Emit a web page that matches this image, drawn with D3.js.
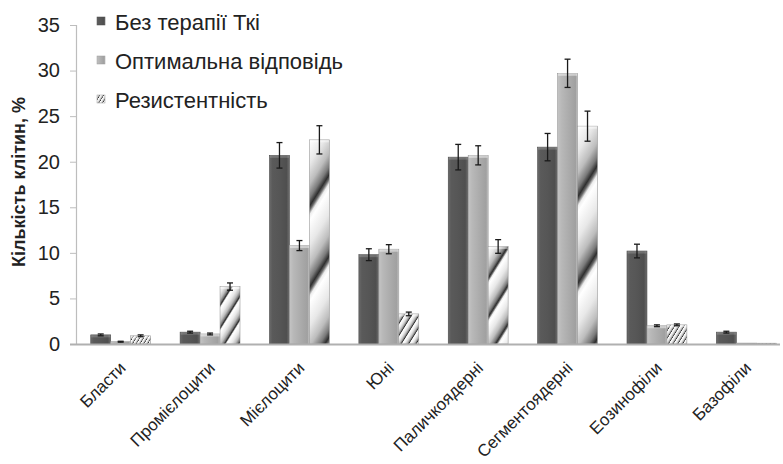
<!DOCTYPE html>
<html>
<head>
<meta charset="utf-8">
<script src="https://cdn.jsdelivr.net/npm/d3@7"></script>
<style>
  html, body { margin: 0; padding: 0; background: #fff; }
  svg { display: block; font-family: "Liberation Sans", Arial, sans-serif; }
</style>
</head>
<body>
<svg id="chart" width="783" height="464"></svg>
<script>
// Cell types and group means (%) with error bars
const categories = ["Бласти", "Промієлоцити", "Мієлоцити", "Юні", "Паличкоядерні", "Сегментоядерні", "Еозинофіли", "Базофіли"];
const seriesNames = ["Без терапії Ткі", "Оптимальна відповідь", "Резистентність"];
const noTherapy = [1.0, 1.3, 20.7, 9.8, 20.5, 21.6, 10.2, 1.3];
const optimal = [0.25, 1.1, 10.8, 10.4, 20.7, 29.7, 2.0, 0.1];
const resistant = [0.9, 6.3, 22.4, 3.3, 10.7, 23.9, 2.1, 0.05];
const noTherapyErr = [0.1, 0.1, 1.4, 0.65, 1.4, 1.5, 0.75, 0.1];
const optimalErr = [0.05, 0.1, 0.55, 0.5, 1.05, 1.55, 0.1, 0];
const resistantErr = [0.1, 0.4, 1.55, 0.2, 0.75, 1.65, 0.1, 0];
const yTicks = [0, 5, 10, 15, 20, 25, 30, 35];

const values = [noTherapy, optimal, resistant];
const errors = [noTherapyErr, optimalErr, resistantErr];

const svg = d3.select("#chart");
const defs = svg.append("defs");

// Cylinder-like shading for the solid series
function hGrad(id, stops) {
  const g = defs.append("linearGradient").attr("id", id)
    .attr("x1", 0).attr("y1", 0).attr("x2", 1).attr("y2", 0);
  stops.forEach(([o, c]) => g.append("stop").attr("offset", o).attr("stop-color", c));
}
hGrad("gDark", [[0, "#6a6a6a"], [0.15, "#5a5a5a"], [0.5, "#565656"], [0.85, "#4f4f4f"], [1, "#6e6e6e"]]);
hGrad("gMid", [[0, "#c4c4c4"], [0.2, "#b8b8b8"], [0.6, "#aaaaaa"], [0.9, "#a0a0a0"], [1, "#c8c8c8"]]);

// Diagonal banded fill: one repeating gradient per bar, band period follows the bar height
const stripeStops = [[0, "#ffffff"], [0.3, "#e8e8e8"], [0.55, "#bdbdbd"], [0.72, "#7a7a7a"], [0.82, "#2e2e2e"], [0.87, "#6a6a6a"], [0.93, "#eeeeee"], [1, "#ffffff"]];
let stripeCount = 0;
function stripeFill(px, py, h) {
  const id = "gStripe" + (stripeCount++);
  const P = Math.max(3.2, h * 0.21);
  const g = defs.append("linearGradient").attr("id", id)
    .attr("gradientUnits", "userSpaceOnUse")
    .attr("spreadMethod", "repeat")
    .attr("x1", px).attr("y1", py)
    .attr("x2", px + 0.85 * P).attr("y2", py + 0.53 * P);
  stripeStops.forEach(([o, c]) => g.append("stop").attr("offset", o).attr("stop-color", c));
  return `url(#${id})`;
}
const fills = ["url(#gDark)", "url(#gMid)", null];
const edges = ["#4a4a4a", "#9a9a9a", "#9a9a9a"];

// Scales
const x0 = d3.scaleBand().domain(categories).range([76, 791]).paddingInner(0.33).paddingOuter(0.165);
const x1 = d3.scaleBand().domain(d3.range(seriesNames.length)).range([0, x0.bandwidth()]).padding(0);
const y = d3.scaleLinear().domain([0, 35]).range([344, 25]);

// Y axis
const yAxis = svg.append("g").attr("transform", "translate(76,0)")
  .call(d3.axisLeft(y).tickValues(yTicks).tickSize(6).tickPadding(10).tickFormat(d3.format("d")));
yAxis.select(".domain").attr("stroke", "#bdbdbd").attr("stroke-width", 1.2);
yAxis.selectAll(".tick line").attr("stroke", "#bdbdbd");
yAxis.selectAll(".tick text").attr("font-size", 20).attr("fill", "#222")
  .attr("font-family", "Liberation Sans, Arial, sans-serif");

svg.append("text")
  .attr("transform", "translate(25,182) rotate(-90)")
  .attr("text-anchor", "middle")
  .attr("font-size", 18).attr("font-weight", "bold").attr("fill", "#222")
  .text("Кількість  клітин, %");

// Bars
const groups = svg.append("g").selectAll("g").data(categories).join("g")
  .attr("transform", d => `translate(${x0(d)},0)`);

groups.each(function (cat, ci) {
  const g = d3.select(this);
  values.forEach((vals, si) => {
    const v = vals[ci];
    const bx = x1(si), bw = x1.bandwidth();
    const h = Math.max(0.8, y(0) - y(v));
    g.append("rect")
      .attr("x", bx).attr("y", y(0) - h).attr("width", bw).attr("height", h)
      .attr("fill", si === 2 ? stripeFill(bx, y(0) - h, h) : fills[si])
      .attr("stroke", edges[si]).attr("stroke-width", 0.6);
    // lighter cap on top of each bar
    if (h > 3) {
      g.append("rect")
        .attr("x", bx + 0.5).attr("y", y(v)).attr("width", bw - 1).attr("height", 2.5)
        .attr("fill", "#ffffff").attr("opacity", si === 0 ? 0.18 : 0.45);
    }
    const e = errors[si][ci];
    if (e > 0) {
      const cx = bx + bw / 2;
      const eb = g.append("g").attr("stroke", "#1a1a1a").attr("stroke-width", 1.3);
      eb.append("line").attr("x1", cx).attr("x2", cx).attr("y1", y(v + e)).attr("y2", y(v - e));
      eb.append("line").attr("x1", cx - 3).attr("x2", cx + 3).attr("y1", y(v + e)).attr("y2", y(v + e));
      eb.append("line").attr("x1", cx - 3).attr("x2", cx + 3).attr("y1", y(v - e)).attr("y2", y(v - e));
    }
  });
});

// Baseline
svg.append("line").attr("x1", 70).attr("x2", 780).attr("y1", y(0) + 0.5).attr("y2", y(0) + 0.5)
  .attr("stroke", "#b0b0b0").attr("stroke-width", 2);

// Category labels, rotated
svg.append("g").selectAll("text").data(categories).join("text")
  .attr("transform", d => `translate(${x0(d) + x0.bandwidth() / 2 + 6},369) rotate(-45)`)
  .attr("text-anchor", "end")
  .attr("font-size", 17).attr("fill", "#222")
  .text(d => d);

// Legend
const legendFills = ["url(#gDark)", "url(#gMid)", stripeFill(0, -5, 8)];
const legend = svg.append("g").selectAll("g").data(seriesNames).join("g")
  .attr("transform", (d, i) => `translate(97,${22 + i * 39})`);
legend.append("rect").attr("x", 0).attr("y", -5).attr("width", 8).attr("height", 8)
  .attr("fill", (d, i) => legendFills[i]).attr("stroke", (d, i) => edges[i]).attr("stroke-width", 0.5);
legend.append("text").attr("x", 18).attr("y", 0).attr("dy", "0.35em")
  .attr("font-size", 22).attr("fill", "#222")
  .text(d => d);
</script>
</body>
</html>
